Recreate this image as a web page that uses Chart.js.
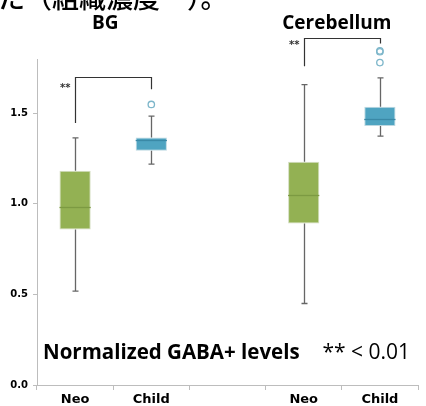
<!DOCTYPE html>
<html>
<head>
<meta charset="utf-8">
<script src="https://cdn.jsdelivr.net/npm/chart.js@4.4.0/dist/chart.umd.min.js"></script>
<style>
html,body{margin:0;padding:0;background:#fff;}
#wrap{width:426px;height:406px;position:relative;}
</style>
</head>
<body>
<div id="wrap"><canvas id="c" width="426" height="406"></canvas></div>
<script>
// ---- data ----
const categories = ['Neo', 'Child', '', 'Neo', 'Child'];
const groupTitles = ['BG', 'Cerebellum'];
const whiskerLow  = [0.518, 1.220, null, 0.450, 1.374];
const q1          = [0.859, 1.293, null, 0.892, 1.430];
const median      = [0.985, 1.352, null, 1.049, 1.471];
const q3          = [1.183, 1.366, null, 1.232, 1.537];
const whiskerHigh = [1.364, 1.485, null, 1.659, 1.696];
const outlierIndex = [1, 4, 4, 4];
const outlierValue = [1.549, 1.845, 1.840, 1.780];
const yTicks = [0.0, 0.5, 1.0, 1.5];
// significance brackets: [leftIndex, rightIndex], top, left end, right end
const bracketPairs = [[0, 1], [3, 4]];
const bracketTop   = [1.700, 1.915];
const bracketLeft  = [1.447, 1.760];
const bracketRight = [1.633, 1.886];
const bracketLabelY = [1.640, 1.875];
const topText = 'た（組織濃度　）。';
const noteText = 'Normalized GABA+ levels';
const pText = '** < 0.01';

const green = '#93b153', greenDark = '#7c9a42';
const blue = '#4fa4c1', blueDark = '#3a89a6';
const boxColors = [green, blue, green, green, blue];
const medColors = [greenDark, blueDark, greenDark, greenDark, blueDark];
const outlierColor = '#7db6ca';

// split outliers into index-aligned series (one value per category per series)
const outlierSeries = [];
outlierIndex.forEach((xi, k) => {
  let s = outlierSeries.find(arr => arr[xi] == null);
  if (!s) { s = categories.map(() => null); outlierSeries.push(s); }
  s[xi] = outlierValue[k];
});

const boxPlugin = {
  id: 'boxExtras',
  beforeDatasetsDraw(chart) {
    const ctx = chart.ctx, y = chart.scales.y;
    const meta = chart.getDatasetMeta(0);
    ctx.save();
    ctx.strokeStyle = '#666';
    ctx.lineWidth = 1.3;
    meta.data.forEach((bar, i) => {
      if (whiskerLow[i] == null) return;
      const x = Math.round(bar.x) + 0.5;
      const yl = y.getPixelForValue(whiskerLow[i]);
      const yh = y.getPixelForValue(whiskerHigh[i]);
      const yq1 = y.getPixelForValue(q1[i]);
      const yq3 = y.getPixelForValue(q3[i]);
      ctx.beginPath();
      ctx.moveTo(x, yh); ctx.lineTo(x, yq3);
      ctx.moveTo(x, yq1); ctx.lineTo(x, yl);
      ctx.moveTo(x - 3, yh); ctx.lineTo(x + 3, yh);
      ctx.moveTo(x - 3, yl); ctx.lineTo(x + 3, yl);
      ctx.stroke();
    });
    ctx.restore();
  },
  afterDatasetsDraw(chart) {
    const ctx = chart.ctx, y = chart.scales.y, xs = chart.scales.x;
    const meta = chart.getDatasetMeta(0);
    ctx.save();
    meta.data.forEach((bar, i) => {
      if (median[i] == null) return;
      const ym = Math.round(y.getPixelForValue(median[i])) + 0.5;
      ctx.strokeStyle = medColors[i];
      ctx.lineWidth = 1.3;
      ctx.beginPath();
      ctx.moveTo(bar.x - bar.width / 2, ym);
      ctx.lineTo(bar.x + bar.width / 2, ym);
      ctx.stroke();
    });
    // outlier points lying above the plot area (library skips them)
    ctx.strokeStyle = outlierColor;
    ctx.lineWidth = 1.3;
    chart.data.datasets.forEach((ds, di) => {
      if (di === 0) return;
      chart.getDatasetMeta(di).data.forEach(pt => {
        if (pt.skip || isNaN(pt.y) || pt.y >= chart.chartArea.top) return;
        ctx.beginPath();
        ctx.arc(pt.x, pt.y, 3.2, 0, Math.PI * 2);
        ctx.stroke();
      });
    });
    // brackets
    ctx.strokeStyle = '#333';
    ctx.lineWidth = 1.2;
    ctx.fillStyle = '#333';
    ctx.font = 'bold 10px "DejaVu Sans"';
    ctx.textAlign = 'right';
    ctx.textBaseline = 'middle';
    bracketPairs.forEach((p, k) => {
      const xl = Math.round(xs.getPixelForValue(p[0])) + 0.5;
      const xr = Math.round(xs.getPixelForValue(p[1])) + 0.5;
      const yt = Math.round(y.getPixelForValue(bracketTop[k])) + 0.5;
      ctx.beginPath();
      ctx.moveTo(xl, y.getPixelForValue(bracketLeft[k]));
      ctx.lineTo(xl, yt);
      ctx.lineTo(xr, yt);
      ctx.lineTo(xr, y.getPixelForValue(bracketRight[k]));
      ctx.stroke();
      ctx.fillText('**', xl - 5, y.getPixelForValue(bracketLabelY[k]));
    });
    // group titles
    ctx.fillStyle = '#000';
    ctx.textAlign = 'center';
    ctx.font = 'bold 19px "Open Sans"';
    const titleX = [(xs.getPixelForValue(0) + xs.getPixelForValue(1)) / 2 - 8,
                    (xs.getPixelForValue(3) + xs.getPixelForValue(4)) / 2 - 5];
    groupTitles.forEach((t, k) => ctx.fillText(t, titleX[k], 24));
    // notes
    ctx.textAlign = 'left';
    ctx.font = 'bold 20.5px "Open Sans"';
    ctx.fillText(noteText, chart.chartArea.left + 6, y.getPixelForValue(0.175));
    ctx.font = '21px "Open Sans"';
    ctx.textAlign = 'right';
    ctx.fillText(pText, chart.chartArea.right - 8, y.getPixelForValue(0.175));
    // cut-off heading text
    ctx.textAlign = 'left';
    ctx.textBaseline = 'alphabetic';
    ctx.font = '500 27px "Noto Sans CJK JP"';
    ctx.fillText(topText, -2, 8);
    ctx.restore();
  }
};

const outlierDatasets = outlierSeries.map((s, k) => ({
  type: 'line',
  label: 'outliers' + k,
  data: s,
  showLine: false,
  pointStyle: 'circle',
  pointRadius: 3.2,
  pointBorderWidth: 1.3,
  pointBorderColor: outlierColor,
  pointBackgroundColor: 'rgba(255,255,255,0)',
  clip: false
}));

new Chart(document.getElementById('c'), {
  type: 'bar',
  data: {
    labels: categories,
    datasets: [
      {
        label: 'box',
        data: categories.map((_, i) => q1[i] == null ? null : [q1[i], q3[i]]),
        backgroundColor: boxColors,
        borderColor: medColors.map(c => c + '55'),
        borderWidth: 1,
        borderSkipped: false,
        categoryPercentage: 1,
        barPercentage: 0.41
      },
      ...outlierDatasets
    ]
  },
  options: {
    responsive: false,
    animation: false,
    devicePixelRatio: 1,
    layout: { padding: { top: 59, right: 8, left: 0, bottom: 0 } },
    plugins: { legend: { display: false }, tooltip: { enabled: false }, title: { display: false } },
    scales: {
      x: {
        type: 'category',
        offset: true,
        border: { color: '#bdbdbd', width: 1 },
        grid: { display: true, drawOnChartArea: false, drawTicks: true, tickLength: 5, offset: true, color: '#bdbdbd' },
        ticks: { color: '#000', font: { family: 'DejaVu Sans', weight: 'bold', size: 13 }, padding: 2, maxRotation: 0, autoSkip: false },
        afterFit(s) { s.height = 21; }
      },
      y: {
        min: 0, max: 1.8,
        afterBuildTicks(s) { s.ticks = yTicks.map(v => ({ value: v })); },
        border: { color: '#bdbdbd', width: 1 },
        grid: { display: true, drawOnChartArea: false, drawTicks: true, tickLength: 4, color: '#bdbdbd' },
        ticks: { color: '#000', font: { family: 'DejaVu Sans', weight: 'bold', size: 10 }, padding: 5, callback: v => v.toFixed(1) },
        afterFit(s) { s.width = 37; }
      }
    }
  },
  plugins: [boxPlugin]
});
</script>
</body>
</html>
